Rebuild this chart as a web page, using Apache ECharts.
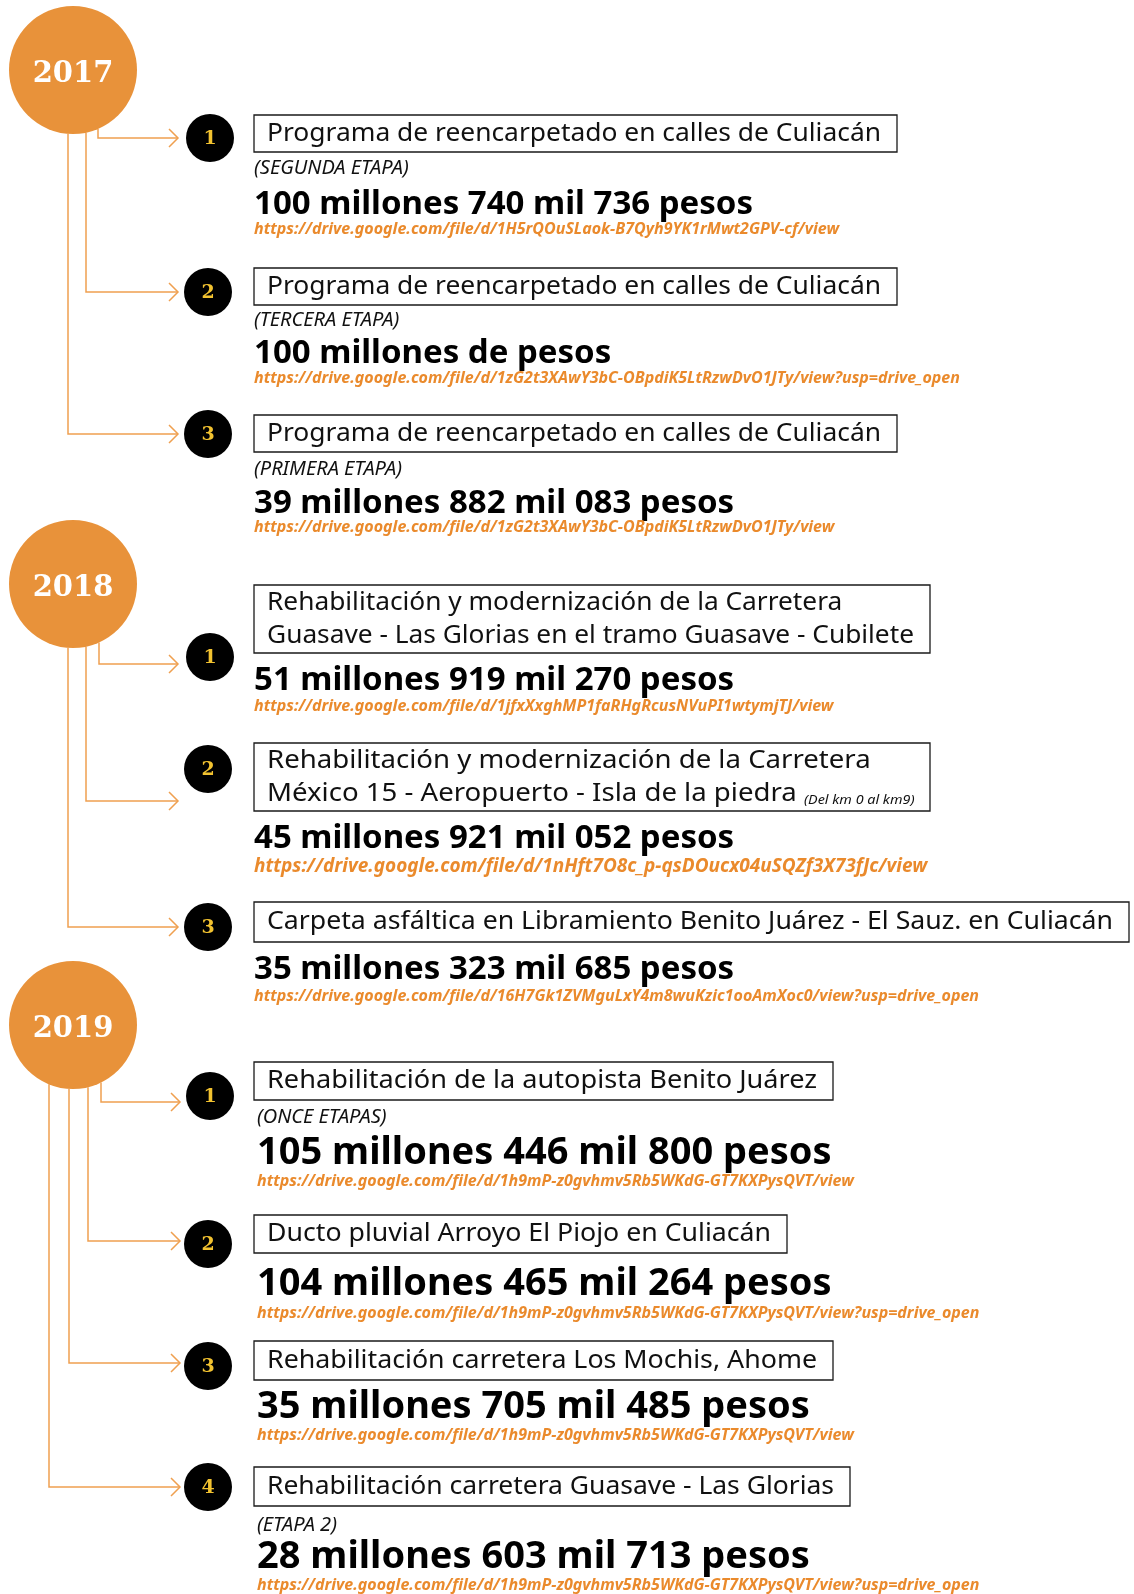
<!DOCTYPE html>
<html>
<head>
<meta charset="utf-8">
<script src="https://cdn.jsdelivr.net/npm/echarts@6/dist/echarts.min.js"></script>
<style>
  html, body { margin: 0; padding: 0; background: #fff; }
  #main { width: 1134px; height: 1594px; }
</style>
</head>
<body>
<div id="main"></div>
<script>
// ---- datos ----
var years = ['2017', '2018', '2019'];
var projYear = [0, 0, 0, 1, 1, 1, 2, 2, 2, 2];
var projNum = [1, 2, 3, 1, 2, 3, 1, 2, 3, 4];
var titles = [
    ['Programa de reencarpetado en calles de Culiacán'],
    ['Programa de reencarpetado en calles de Culiacán'],
    ['Programa de reencarpetado en calles de Culiacán'],
    ['Rehabilitación y modernización de la Carretera', 'Guasave - Las Glorias en el tramo Guasave - Cubilete'],
    ['Rehabilitación y modernización de la Carretera', 'México 15 - Aeropuerto - Isla de la piedra'],
    ['Carpeta asfáltica en Libramiento Benito Juárez - El Sauz. en Culiacán'],
    ['Rehabilitación de la autopista Benito Juárez'],
    ['Ducto pluvial Arroyo El Piojo en Culiacán'],
    ['Rehabilitación carretera Los Mochis, Ahome'],
    ['Rehabilitación carretera Guasave - Las Glorias']
];
var titleExtra = ['', '', '', '', '(Del km 0 al km9)', '', '', '', '', ''];
var stages = ['(SEGUNDA ETAPA)', '(TERCERA ETAPA)', '(PRIMERA ETAPA)', '', '', '', '(ONCE ETAPAS)', '', '', '(ETAPA 2)'];
var amounts = [100740736, 100000000, 39882083, 51919270, 45921052, 35323685, 105446800, 104465264, 35705485, 28603713];
var links = [
    'https://drive.google.com/file/d/1H5rQOuSLaok-B7Qyh9YK1rMwt2GPV-cf/view',
    'https://drive.google.com/file/d/1zG2t3XAwY3bC-OBpdiK5LtRzwDvO1JTy/view?usp=drive_open',
    'https://drive.google.com/file/d/1zG2t3XAwY3bC-OBpdiK5LtRzwDvO1JTy/view',
    'https://drive.google.com/file/d/1jfxXxghMP1faRHgRcusNVuPI1wtymjTJ/view',
    'https://drive.google.com/file/d/1nHft7O8c_p-qsDOucx04uSQZf3X73fJc/view',
    'https://drive.google.com/file/d/16H7Gk1ZVMguLxY4m8wuKzic1ooAmXoc0/view?usp=drive_open',
    'https://drive.google.com/file/d/1h9mP-z0gvhmv5Rb5WKdG-GT7KXPysQVT/view',
    'https://drive.google.com/file/d/1h9mP-z0gvhmv5Rb5WKdG-GT7KXPysQVT/view?usp=drive_open',
    'https://drive.google.com/file/d/1h9mP-z0gvhmv5Rb5WKdG-GT7KXPysQVT/view',
    'https://drive.google.com/file/d/1h9mP-z0gvhmv5Rb5WKdG-GT7KXPysQVT/view?usp=drive_open'
];

// ---- maquetacion (en unidades de eje = px) ----
var yearX = 73, yearR = 64;
var yearY = [70, 584, 1025];
// [lineaX, flechaY, badgeX, badgeY, cajaTop, cajaBottom, cajaRight, etapaY, montoY, linkY, montoSize, linkSize, flechaX, textoX]
var layout = [
    [98, 138, 210, 138, 115, 152, 897, 168, 205, 229, 33, 16, 178, 254],
    [86, 292, 208, 292, 268, 305, 897, 320, 354, 378, 33, 16, 178, 254],
    [68, 434, 208, 434, 415, 452, 897, 469, 504, 527, 33, 16, 178, 254],
    [99, 664, 210, 657, 585, 653, 930, 0, 681, 706, 33, 16, 178, 254],
    [86, 801, 208, 769, 743, 811, 930, 0, 839, 867, 33, 19, 178, 254],
    [68, 927, 208, 927, 902, 942, 1129, 0, 970, 996, 33, 16, 178, 254],
    [101, 1102, 210, 1096, 1062, 1100, 833, 1117, 1153, 1181, 38, 16, 180, 257],
    [88, 1241, 208, 1244, 1215, 1253, 787, 0, 1284, 1313, 38, 16, 180, 257],
    [69, 1363, 208, 1366, 1341, 1380, 833, 0, 1407, 1435, 38, 16, 180, 257],
    [49, 1487, 208, 1487, 1467, 1506, 850, 1525, 1557, 1585, 38, 16, 180, 257]
];

var ORANGE = '#E8923A';
var LINE = '#EFA050';
var LINK = '#EA8A2C';
var FONT = '"Noto Sans", "Open Sans", sans-serif';

function pad3(n) { return ('00' + n).slice(-3); }
function pesos(v) {
    var m = Math.floor(v / 1e6), k = Math.floor(v / 1000) % 1000, u = v % 1000;
    if (k === 0 && u === 0) return m + ' millones de pesos';
    return m + ' millones ' + pad3(k) + ' mil ' + pad3(u) + ' pesos';
}

var ctx = document.createElement('canvas').getContext('2d');
function textW(str, font) { ctx.font = font; return ctx.measureText(str).width; }

var chart = echarts.init(document.getElementById('main'));

function connectorItem(params, api) {
    var i = api.value(0);
    var L = layout[i];
    var cy = yearY[projYear[i]];
    var dx = L[0] - yearX;
    var y0 = cy + Math.sqrt(yearR * yearR - dx * dx);
    var a = api.coord([L[0], y0]);
    var b = api.coord([L[0], L[1]]);
    var c = api.coord([L[12], L[1]]);
    return {
        type: 'group',
        children: [
            { type: 'polyline', shape: { points: [a, b, c] }, style: { stroke: LINE, lineWidth: 1.5, fill: null } },
            { type: 'polyline', shape: { points: [[c[0] - 9, c[1] - 9], c, [c[0] - 9, c[1] + 9]] }, style: { stroke: LINE, lineWidth: 1.5, fill: null } }
        ]
    };
}

function projectItem(params, api) {
    var i = api.value(0);
    var L = layout[i];
    var kids = [];
    var bc = api.coord([L[2], L[3]]);
    kids.push({ type: 'circle', shape: { cx: bc[0], cy: bc[1], r: 24 }, style: { fill: '#000' } });
    kids.push({ type: 'text', x: bc[0], y: bc[1] + 1, style: { text: String(projNum[i]), font: 'bold 19px "DejaVu Serif", serif', fill: '#F2C230', textAlign: 'center', textVerticalAlign: 'middle' } });

    // caja
    var tl = api.coord([254, L[4]]);
    var br = api.coord([L[6], L[5]]);
    kids.push({ type: 'rect', shape: { x: tl[0], y: tl[1], width: br[0] - tl[0], height: br[1] - tl[1] }, style: { fill: 'none', stroke: '#1a1a1a', lineWidth: 1.3 } });

    var tFont = '400 25px ' + FONT;
    var eFont = 'italic 400 13px ' + FONT;
    var lines = titles[i];
    var maxW = 0;
    lines.forEach(function (s, j) {
        var w = textW(s, tFont);
        if (j === lines.length - 1 && titleExtra[i]) w += 6 + textW(titleExtra[i], eFont);
        maxW = Math.max(maxW, w);
    });
    var sx = (L[6] - 254 - 29) / maxW;
    lines.forEach(function (s, j) {
        var ty = lines.length === 1 ? (L[4] + L[5]) / 2 : L[4] + 18 + j * 33;
        var p = api.coord([267, ty]);
        var el = { type: 'text', x: p[0], y: p[1], scaleX: sx, style: { text: s, font: tFont, fill: '#111', textAlign: 'left', textVerticalAlign: 'middle' } };
        if (j === lines.length - 1 && titleExtra[i]) {
            el.style.text = '{a|' + s + '} {b|' + titleExtra[i] + '}';
            el.style.rich = {
                a: { font: tFont, fill: '#111' },
                b: { font: eFont, fill: '#111', verticalAlign: 'bottom' }
            };
        }
        kids.push(el);
    });

    if (stages[i]) {
        var sp = api.coord([L[13], L[7]]);
        kids.push({ type: 'text', x: sp[0], y: sp[1], style: { text: stages[i], font: 'italic 400 20px ' + FONT, fill: '#111', textAlign: 'left', textVerticalAlign: 'middle' } });
    }
    var ap = api.coord([L[13], L[8]]);
    kids.push({ type: 'text', x: ap[0], y: ap[1], style: { text: pesos(amounts[i]), font: 'bold ' + L[10] + 'px ' + FONT, fill: '#000', textAlign: 'left', textVerticalAlign: 'middle' } });
    var lp = api.coord([L[13], L[9]]);
    kids.push({ type: 'text', x: lp[0], y: lp[1], style: { text: links[i], font: 'italic bold ' + L[11] + 'px ' + FONT, fill: LINK, textAlign: 'left', textVerticalAlign: 'middle' } });

    return { type: 'group', children: kids };
}

var idx = amounts.map(function (v, i) { return [i, 0]; });

chart.setOption({
    animation: false,
    grid: { left: 0, right: 0, top: 0, bottom: 0 },
    xAxis: { type: 'value', min: 0, max: 1134, show: false },
    yAxis: { type: 'value', min: 0, max: 1594, inverse: true, show: false },
    series: [
        {
            type: 'custom',
            name: 'conectores',
            clip: false,
            renderItem: connectorItem,
            data: idx,
            z: 1
        },
        {
            type: 'scatter',
            name: 'años',
            symbol: 'circle',
            symbolSize: yearR * 2,
            itemStyle: { color: ORANGE, opacity: 1 },
            label: {
                show: true,
                position: 'inside',
                offset: [0, 4],
                formatter: function (p) { return p.value[2]; },
                color: '#fff',
                fontFamily: '"DejaVu Serif", serif',
                fontWeight: 'bold',
                fontSize: 29
            },
            data: years.map(function (y, k) { return [yearX, yearY[k], y]; }),
            z: 3
        },
        {
            type: 'custom',
            name: 'proyectos',
            clip: false,
            renderItem: projectItem,
            data: idx,
            z: 2
        }
    ]
});
</script>
</body>
</html>
